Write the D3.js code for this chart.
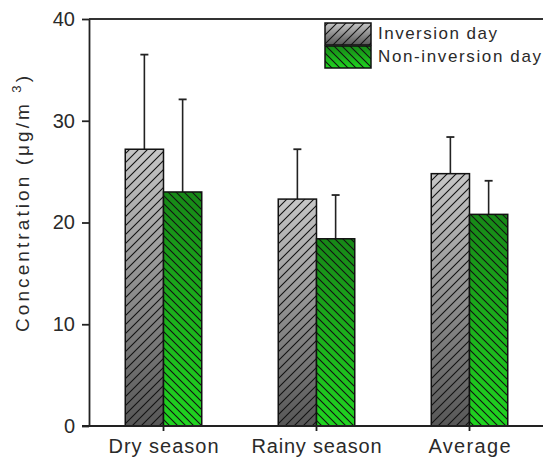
<!DOCTYPE html>
<html><head><meta charset="utf-8">
<script src="https://cdn.jsdelivr.net/npm/d3@7/dist/d3.min.js"></script>
<style>
html,body{margin:0;padding:0;background:#fff;}
svg{display:block;}
text{font-family:"Liberation Sans",Arial,sans-serif;fill:#2a2a2a;}
</style></head>
<body><svg id="c" width="543" height="462"></svg>
<script>
const categories = ["Dry season", "Rainy season", "Average"];
const seriesNames = ["Inversion day", "Non-inversion day"];
const inversion = [27.2, 22.3, 24.8];
const nonInversion = [23.0, 18.4, 20.8];
const inversionErr = [9.3, 4.9, 3.6];
const nonInversionErr = [9.1, 4.3, 3.3];
const yTicks = [0, 10, 20, 30, 40];

const svg = d3.select("#c");
const defs = svg.append("defs");

function grad(id, top, bottom) {
  const g = defs.append("linearGradient").attr("id", id)
    .attr("x1", 0).attr("y1", 0).attr("x2", 0).attr("y2", 1);
  g.append("stop").attr("offset", "0%").attr("stop-color", top);
  g.append("stop").attr("offset", "100%").attr("stop-color", bottom);
}
grad("gGray", "#c6c6c6", "#575757");
grad("gGreen", "#178817", "#20d420");

function hatch(id, s, dir) {
  const p = defs.append("pattern").attr("id", id)
    .attr("patternUnits", "userSpaceOnUse").attr("width", s).attr("height", s);
  const d = dir > 0
    ? `M0,${s} L${s},0 M${-s/2},${s/2} L${s/2},${-s/2} M${s/2},${s*1.5} L${s*1.5},${s/2}`
    : `M0,0 L${s},${s} M${-s/2},${s/2} L${s/2},${s*1.5} M${s/2},${-s/2} L${s*1.5},${s/2}`;
  p.append("path").attr("d", d).attr("stroke", "#111").attr("stroke-width", 1.1).attr("fill", "none");
}
hatch("hGray", 9, 1);
hatch("hGreen", 8, -1);

const y = d3.scaleLinear().domain([0, 40]).range([426, 19]);
const x = d3.scaleBand().domain(categories).range([87, 546]).paddingInner(0.5).paddingOuter(0.25);
const xs = d3.scaleBand().domain(seriesNames).range([0, x.bandwidth()]);

const series = [
  {name: seriesNames[0], vals: inversion, errs: inversionErr, fill: "url(#gGray)", hatch: "url(#hGray)"},
  {name: seriesNames[1], vals: nonInversion, errs: nonInversionErr, fill: "url(#gGreen)", hatch: "url(#hGreen)"}
];

// error bars (upper only)
series.forEach(s => {
  const g = svg.append("g");
  categories.forEach((c, i) => {
    const cx = x(c) + xs(s.name) + xs.bandwidth() / 2;
    g.append("line").attr("x1", cx).attr("x2", cx)
      .attr("y1", y(s.vals[i])).attr("y2", y(s.vals[i] + s.errs[i]))
      .attr("stroke", "#222").attr("stroke-width", 1.6);
    g.append("line").attr("x1", cx - 4).attr("x2", cx + 4)
      .attr("y1", y(s.vals[i] + s.errs[i])).attr("y2", y(s.vals[i] + s.errs[i]))
      .attr("stroke", "#222").attr("stroke-width", 1.8);
  });
});

// bars
series.forEach(s => {
  const g = svg.append("g");
  const data = categories.map((c, i) => ({c, v: s.vals[i]}));
  g.selectAll("rect.b").data(data).join("rect").attr("class", "b")
    .attr("x", d => x(d.c) + xs(s.name)).attr("width", xs.bandwidth())
    .attr("y", d => y(d.v)).attr("height", d => y(0) - y(d.v))
    .attr("fill", s.fill);
  g.selectAll("rect.h").data(data).join("rect").attr("class", "h")
    .attr("x", d => x(d.c) + xs(s.name)).attr("width", xs.bandwidth())
    .attr("y", d => y(d.v)).attr("height", d => y(0) - y(d.v))
    .attr("fill", s.hatch).attr("stroke", "#111").attr("stroke-width", 1.5);
});

// top frame line
svg.append("line").attr("x1", 89).attr("x2", 543).attr("y1", y(40)).attr("y2", y(40))
  .attr("stroke", "#333").attr("stroke-width", 2);
// x baseline
svg.append("line").attr("x1", 82).attr("x2", 543).attr("y1", y(0)).attr("y2", y(0))
  .attr("stroke", "#222").attr("stroke-width", 1.8);

// y axis
const ya = svg.append("g").attr("transform", "translate(89,0)")
  .call(d3.axisLeft(y).tickValues(yTicks).tickSize(7).tickSizeOuter(0).tickPadding(7));
ya.select(".domain").attr("stroke", "#222").attr("stroke-width", 1.8);
ya.selectAll(".tick line").attr("stroke", "#222").attr("stroke-width", 1.8);
ya.selectAll(".tick text").attr("font-size", 20).attr("fill", "#2a2a2a")
  .style("font-family", '"Liberation Sans",Arial,sans-serif');

// x axis
const xa = svg.append("g").attr("transform", `translate(0,${y(0)})`)
  .call(d3.axisBottom(x).tickSize(5).tickSizeOuter(0).tickPadding(8));
xa.select(".domain").remove();
xa.selectAll(".tick line").attr("stroke", "#222").attr("stroke-width", 1.8);
const xLabelLen = {"Dry season": 110, "Rainy season": 130, "Average": 82};
xa.selectAll(".tick text").attr("font-size", 20).attr("fill", "#2a2a2a")
  .style("font-family", '"Liberation Sans",Arial,sans-serif')
  .attr("textLength", d => xLabelLen[d]).attr("lengthAdjust", "spacing");

// y title
const yt = svg.append("text").attr("transform", "translate(29,204) rotate(-90)")
  .attr("text-anchor", "middle").attr("font-size", 19)
  .attr("textLength", 256).attr("lengthAdjust", "spacing");
yt.append("tspan").text("Concentration (μg/m ");
yt.append("tspan").attr("font-size", 13).attr("dy", -8).text("3");
yt.append("tspan").attr("dy", 8).text(")");

// legend
const lg = svg.append("g");
const legY = [23, 46];
series.forEach((s, i) => {
  lg.append("rect").attr("x", 325).attr("y", legY[i]).attr("width", 46).attr("height", 22).attr("fill", s.fill);
  lg.append("rect").attr("x", 325).attr("y", legY[i]).attr("width", 46).attr("height", 22)
    .attr("fill", s.hatch).attr("stroke", "#111").attr("stroke-width", 1.5);
  lg.append("text").attr("x", 378).attr("y", legY[i] + 16).attr("font-size", 17)
    .attr("textLength", i === 0 ? 119 : 163).attr("lengthAdjust", "spacing").text(s.name);
});
</script></body></html>
